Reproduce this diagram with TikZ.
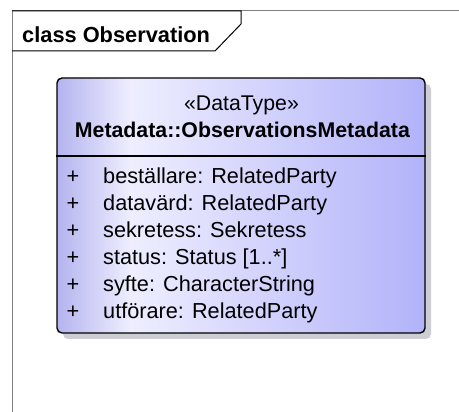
\documentclass[tikz,border=0pt]{standalone}
\usepackage{fontspec}
\setmainfont{Liberation Sans}
\usetikzlibrary{shadows}
\definecolor{eaA}{HTML}{B4B4F0}
\definecolor{eaB}{HTML}{EEEEFF}
\definecolor{eaC}{HTML}{B2B2FA}
\definecolor{shadowc}{HTML}{CDCDD4}
\definecolor{framec}{HTML}{808080}
\pgfdeclarehorizontalshading{eabox}{100bp}{color(0bp)=(eaA); color(25bp)=(eaA); color(35bp)=(eaB); color(75bp)=(eaC); color(100bp)=(eaC)}
\tikzset{
  txt/.style={inner sep=0pt, font=\fontsize{21.7}{25}\selectfont},
  attr/.style={txt, anchor=base west},
  vis/.style={txt, anchor=base},
  hdr/.style={inner sep=0pt, anchor=base, font=\fontsize{21.3}{25}\selectfont},
  titl/.style={inner sep=0pt, anchor=base west, font=\fontsize{21.8}{25}\selectfont\bfseries},
  classbox/.style={draw=black, line width=1.4pt, rounded corners=5pt, shading=eabox,
    minimum width=368pt, minimum height=255pt, inner sep=0pt,
    drop shadow={shadow xshift=6pt, shadow yshift=-6pt, fill=shadowc, opacity=1}},
  framel/.style={draw=framec, line width=1pt},
  tabl/.style={draw=black, line width=1pt}
}
\begin{document}
\begin{tikzpicture}[x=1pt,y=-1pt]
\useasboundingbox (0,0) rectangle (459,412);
% frame
\coordinate (fbl) at (12,420);
\coordinate (ftl) at (12,11);
\coordinate (ftr) at (470,11);
\draw[framel] (fbl) -- (ftl) -- (ftr);
\draw[tabl] (12,11) -- (241,11) -- (241,24) -- (215,51) -- (12,51);
\node[titl] (title) at (22,43) {class Observation};
% class box
\node[classbox] (cls) at (241,205.5) {};
\draw[line width=1.2pt] (cls.west |- 0,156) -- (cls.east |- 0,156);
\node[hdr] (stereo) at (241.5,111) {«DataType»};
\node[hdr] (name) at (242.5,138) {\textbf{Metadata::ObservationsMetadata}};
\foreach \i/\t in {1/{beställare: RelatedParty},2/{datavärd: RelatedParty},3/{sekretess: Sekretess},4/{status: Status [1..*]},5/{syfte: CharacterString},6/{utförare: RelatedParty}}{
  \pgfmathsetmacro{\yy}{184+27*(\i-1)}
  \node[vis] (p\i) at (73,\yy) {+};
  \node[attr] (a\i) at (103,\yy) {\t};
}
\end{tikzpicture}
\end{document}
